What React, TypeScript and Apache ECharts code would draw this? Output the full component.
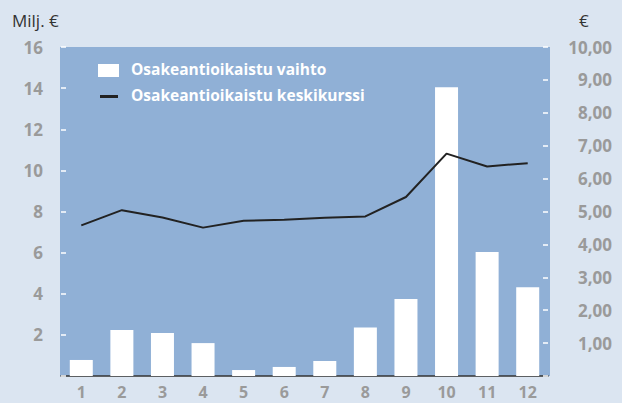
import React, { useEffect, useRef } from "react";
import * as echarts from "echarts";

const months = ["1", "2", "3", "4", "5", "6", "7", "8", "9", "10", "11", "12"];
const turnover = [0.78, 2.24, 2.09, 1.6, 0.29, 0.44, 0.73, 2.36, 3.74, 14.04, 6.03, 4.32];
const avgPrice = [4.58, 5.04, 4.82, 4.51, 4.72, 4.75, 4.81, 4.85, 5.44, 6.76, 6.37, 6.47];
const seriesNames = ["Osakeantioikaistu vaihto", "Osakeantioikaistu keskikurssi"];
const leftUnit = "Milj. €";
const rightUnit = "€";

const FONT = "'Open Sans', 'Noto Sans', sans-serif";
const GRAY = "#9a9a9a";

export default function App() {
  const ref = useRef<HTMLDivElement>(null);
  useEffect(() => {
    document.body.style.margin = "0";
    const chart = echarts.init(ref.current!, undefined, { renderer: "svg" });
    const labelStyle = { color: GRAY, fontSize: 17, lineHeight: 17, fontWeight: "bold" as const, fontFamily: FONT };
    chart.setOption({
      animation: false,
      backgroundColor: "#dbe5f1",
      textStyle: { fontFamily: FONT },
      grid: { left: 61, width: 487, top: 47, height: 329, containLabel: false },
      graphic: [
        { type: "rect", z: -10, shape: { x: 60, y: 47, width: 490, height: 329 }, style: { fill: "#90b0d6" }, silent: true },
        { type: "text", left: 12, top: 12, style: { text: leftUnit, fontSize: 17, fill: "#333", fontFamily: FONT } },
        { type: "text", left: 579, top: 12, style: { text: rightUnit, fontSize: 17, fill: "#333", fontFamily: FONT } },
        { type: "rect", shape: { x: 98, y: 64, width: 21, height: 13 }, style: { fill: "#ffffff" } },
        { type: "rect", shape: { x: 100, y: 95, width: 18, height: 3 }, style: { fill: "#222222" } },
        { type: "text", left: 131, top: 61, style: { text: seriesNames[0], fontSize: 15.5, fontWeight: "bold", fill: "#ffffff", fontFamily: FONT } },
        { type: "text", left: 131, top: 87, style: { text: seriesNames[1], fontSize: 15.5, fontWeight: "bold", fill: "#ffffff", fontFamily: FONT } },
      ],
      xAxis: {
        type: "category",
        data: months,
        axisLine: { show: true, lineStyle: { color: "#333", width: 1.5 } },
        axisTick: { show: false },
        axisLabel: { ...labelStyle, fontSize: 16, lineHeight: 16, margin: 8 },
        splitLine: { show: false },
      },
      yAxis: [
        {
          type: "value",
          min: 0,
          max: 16,
          interval: 2,
          position: "left",
          axisLine: { show: false },
          axisTick: { show: true, inside: true, length: 5, lineStyle: { color: "#ffffff", width: 1.5 } },
          splitLine: { show: false },
          axisLabel: { ...labelStyle, margin: 18, formatter: (v: number) => (v === 0 ? "" : String(v)) },
        },
        {
          type: "value",
          min: 0,
          max: 10,
          interval: 1,
          position: "right",
          axisLine: { show: false },
          axisTick: { show: true, inside: true, length: 5, lineStyle: { color: "#ffffff", width: 1.5 } },
          splitLine: { show: false },
          axisLabel: {
            ...labelStyle,
            align: "right",
            margin: 64,
            formatter: (v: number) => (v === 0 ? "" : v.toFixed(2).replace(".", ",")),
          },
        },
      ],
      series: [
        {
          name: seriesNames[0],
          type: "bar",
          yAxisIndex: 0,
          data: turnover,
          barWidth: 23,
          itemStyle: { color: "#ffffff" },
          z: 2,
        },
        {
          name: seriesNames[1],
          type: "line",
          yAxisIndex: 1,
          data: avgPrice,
          symbol: "none",
          lineStyle: { color: "#222222", width: 2 },
          z: 3,
        },
      ],
    });
    return () => chart.dispose();
  }, []);
  return <div ref={ref} style={{ width: 622, height: 403 }} />;
}
